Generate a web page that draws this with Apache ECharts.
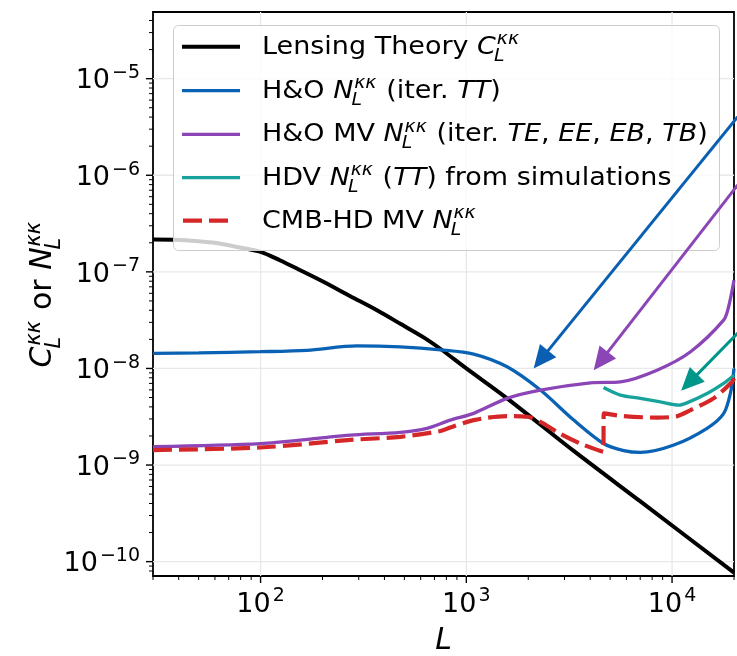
<!DOCTYPE html>
<html><head><meta charset="utf-8">
<script src="https://cdn.jsdelivr.net/npm/echarts@6/dist/echarts.min.js"></script>
<style>html,body{margin:0;padding:0;background:#fff}#c{width:737px;height:656px}</style>
</head><body><div id="c"></div>
<script>
// ---------- data ----------
const X_MIN = 30, X_MAX = 20000, Y_MIN = 7.1e-11, Y_MAX = 4.9e-5;

const theoryL = [30, 38, 50, 61, 77, 100, 124, 156, 202, 273, 368, 478, 620, 750, 1000, 1578, 3326, 7015, 20000];
const theoryC = [2.16e-7, 2.15e-7, 2.08e-7, 1.99e-7, 1.81e-7, 1.61e-7, 1.32e-7, 1.04e-7, 7.9e-8, 5.6e-8, 4.0e-8, 2.9e-8, 2.1e-8, 1.59e-8, 1.0e-8, 4.9e-9, 1.4e-9, 4.2e-10, 7.7e-11];

const hoTTL = [30, 50, 100, 168, 294, 478, 750, 1086, 1578, 2291, 3326, 4645, 5820, 7015, 10200, 14800, 17800, 19200, 20000];
const hoTTN = [1.43e-8, 1.45e-8, 1.49e-8, 1.54e-8, 1.71e-8, 1.67e-8, 1.56e-8, 1.41e-8, 1.04e-8, 5.97e-9, 2.92e-9, 1.67e-9, 1.41e-9, 1.35e-9, 1.61e-9, 2.4e-9, 3.4e-9, 5.5e-9, 1.0e-8];

const hoMVL = [30, 100, 188, 273, 478, 644, 836, 1086, 1578, 2291, 4010, 5610, 8450, 12300, 17800, 18800, 20000];
const hoMVN = [1.55e-9, 1.67e-9, 1.89e-9, 2.04e-9, 2.18e-9, 2.4e-9, 2.92e-9, 3.43e-9, 4.9e-9, 5.97e-9, 7.1e-9, 7.27e-9, 9.6e-9, 1.49e-8, 3.16e-8, 4.3e-8, 8.2e-8];

const hdvL = [4645, 5610, 7015, 8770, 10800, 11800, 14800, 17800, 20000];
const hdvN = [6.35e-9, 5.3e-9, 4.9e-9, 4.5e-9, 4.17e-9, 4.4e-9, 5.5e-9, 7.0e-9, 8.5e-9];

const cmbhdL = [30, 100, 273, 478, 749, 836, 1086, 1578, 1974, 2291, 2761, 3583, 4630, 4660, 5820, 8450, 10600, 12300, 15900, 19600, 20000];
const cmbhdN = [1.43e-9, 1.52e-9, 1.82e-9, 1.96e-9, 2.25e-9, 2.45e-9, 2.92e-9, 3.21e-9, 3.16e-9, 2.8e-9, 2.2e-9, 1.67e-9, 1.37e-9, 3.43e-9, 3.21e-9, 3.1e-9, 3.21e-9, 3.7e-9, 4.9e-9, 7.3e-9, 7.9e-9];

// annotation arrows (data coordinates): tip and tail
const arrowTipL = [2124, 4160, 11070];
const arrowTipV = [1.0e-8, 9.6e-9, 5.86e-9];
const arrowTailL = [22000, 22000, 22000];
const arrowTailV = [4.65e-6, 9.2e-7, 2.6e-8];

// ticks
const xMajorTicks = [100, 1000, 10000];
const xTickExps = ['2', '3', '4'];
const xMinorTicks = [30, 40, 50, 60, 70, 80, 90, 200, 300, 400, 500, 600, 700, 800, 900, 2000, 3000, 4000, 5000, 6000, 7000, 8000, 9000, 20000];
const yMajorTicks = [1e-10, 1e-9, 1e-8, 1e-7, 1e-6, 1e-5];
const yTickExps = ['\u221210', '\u22129', '\u22128', '\u22127', '\u22126', '\u22125'];
const yMinorTicks = [8e-11, 9e-11,
  2e-10, 3e-10, 4e-10, 5e-10, 6e-10, 7e-10, 8e-10, 9e-10,
  2e-9, 3e-9, 4e-9, 5e-9, 6e-9, 7e-9, 8e-9, 9e-9,
  2e-8, 3e-8, 4e-8, 5e-8, 6e-8, 7e-8, 8e-8, 9e-8,
  2e-7, 3e-7, 4e-7, 5e-7, 6e-7, 7e-7, 8e-7, 9e-7,
  2e-6, 3e-6, 4e-6, 5e-6, 6e-6, 7e-6, 8e-6, 9e-6,
  2e-5, 3e-5, 4e-5];

// legend labels (plain text, {i: italic}, {m: letter, sup, sub})
const legendLabels = [
  ['Lensing Theory ', {m: 'C', sup: '\u03ba\u03ba', sub: 'L'}],
  ['H&O ', {m: 'N', sup: '\u03ba\u03ba', sub: 'L'}, ' (iter. ', {i: 'TT'}, ')'],
  ['H&O MV ', {m: 'N', sup: '\u03ba\u03ba', sub: 'L'}, ' (iter. ', {i: 'TE'}, ', ', {i: 'EE'}, ', ', {i: 'EB'}, ', ', {i: 'TB'}, ')'],
  ['HDV ', {m: 'N', sup: '\u03ba\u03ba', sub: 'L'}, ' (', {i: 'TT'}, ') from simulations'],
  ['CMB-HD MV ', {m: 'N', sup: '\u03ba\u03ba', sub: 'L'}]
];
const yTitle = [{m: 'C', sup: '\u03ba\u03ba', sub: 'L'}, ' or ', {m: 'N', sup: '\u03ba\u03ba', sub: 'L'}];

// ---------- style ----------
const COLORS = ['#000000', '#0a62b4', '#8b45b6', '#17a39c', '#d62728'];
const ARROW_COLORS = ['#0a5fb2', '#8b45b6', '#00968a'];
const WIDTHS = [4, 3.3, 3.3, 3.3, 4.2];
const DASH = [19, 7];
const FONT = '"DejaVu Sans"';

// ---------- helpers ----------
const _ctx = document.createElement('canvas').getContext('2d');
function tw(t, fs, it) { _ctx.font = (it ? 'italic ' : '') + fs + 'px ' + FONT; return _ctx.measureText(t).width; }
const MID = 0.346;
function txt(t, x, base, fs, it, z) {
  return {type: 'text', x: x, y: base - MID * fs, z: z || 10,
    style: {text: t, font: (it ? 'italic ' : '') + fs + 'px ' + FONT, fill: '#000',
      textAlign: 'left', align: 'left', textVerticalAlign: 'middle', verticalAlign: 'middle'}};
}
function layout(pieces, fs, z) {
  const els = []; let cx = 0; const sfs = fs * 0.7;
  for (const p of pieces) {
    if (typeof p === 'string') { els.push(txt(p, cx, 0, fs, false, z)); cx += tw(p, fs, false); }
    else if (p.i) { els.push(txt(p.i, cx, 0, fs, true, z)); cx += tw(p.i, fs, true); }
    else {
      els.push(txt(p.m, cx, 0, fs, true, z)); cx += tw(p.m, fs, true);
      const supX = cx + fs * 0.03, subX = cx - fs * 0.07;
      els.push(txt(p.sup, supX, -fs * 0.42, sfs, true, z));
      els.push(txt(p.sub, subX, fs * 0.27, sfs, true, z));
      cx = Math.max(supX + tw(p.sup, sfs, true), subX + tw(p.sub, sfs, true)) + fs * 0.04;
    }
  }
  return {els: els, width: cx};
}
const zip = (a, b) => a.map((v, i) => [v, b[i]]);

// ---------- graphic (legend + titles) ----------
const LFS = 27;
const graphic = [];
graphic.push({type: 'rect', z: 10, shape: {x: 173.5, y: 25.5, width: 546, height: 225, r: 5},
  style: {fill: 'rgba(255,255,255,0.8)', stroke: '#cccccc', lineWidth: 1}});
const rowY = [46.7, 90.7, 134.3, 177.7, 220.7];
legendLabels.forEach((lab, i) => {
  const isDash = i === 4;
  graphic.push({type: 'line', z: 11, shape: {x1: isDash ? 183 : 182, y1: rowY[i], x2: isDash ? 231 : 240, y2: rowY[i]},
    style: {stroke: COLORS[i], lineWidth: WIDTHS[i], lineDash: isDash ? DASH : null}});
  const L = layout(lab, LFS, 11);
  graphic.push({type: 'group', x: 262, y: rowY[i] + 9, scaleY: 0.9, z: 11, children: L.els});
});
// y axis title (rotated)
const YT = layout(yTitle, 30, 11);
graphic.push({type: 'group', x: 54, y: 294, rotation: Math.PI / 2, children:
  YT.els.map(e => Object.assign(e, {x: e.x - YT.width / 2}))});
// x axis title
const XT = layout([{i: 'L'}], 30, 11);
graphic.push({type: 'group', x: 443.5 - XT.width / 2, y: 652, children: XT.els});

// ---------- tick data ----------
const tickData = [];
xMajorTicks.forEach(v => tickData.push([v, Y_MIN, 0, 7]));
xMinorTicks.forEach(v => tickData.push([v, Y_MIN, 0, 4]));
yMajorTicks.forEach(v => tickData.push([X_MIN, v, 1, 7]));
yMinorTicks.forEach(v => tickData.push([X_MIN, v, 1, 4]));

const labelData = [];
const labelExps = [];
xMajorTicks.forEach((v, i) => { labelData.push([v, Y_MIN, 0]); labelExps.push(xTickExps[i]); });
yMajorTicks.forEach((v, i) => { labelData.push([X_MIN, v, 1]); labelExps.push(yTickExps[i]); });

const gridData = [];
xMajorTicks.forEach(v => gridData.push([v, Y_MIN, 0]));
yMajorTicks.forEach(v => gridData.push([X_MIN, v, 1]));

const arrowData = arrowTipL.map((v, i) => [v, arrowTipV[i], arrowTailL[i], arrowTailV[i]]);

const TFS = 27, SFS = 19;

const lineSeries = (name, L, V, idx, dashed) => ({
  name: name, type: 'line', data: zip(L, V), showSymbol: false, symbol: 'none', smooth: 0.3,
  z: 2, lineStyle: {color: COLORS[idx], width: WIDTHS[idx], type: dashed ? DASH : 'solid', cap: 'butt'},
  emphasis: {disabled: true}
});

const option = {
  animation: false,
  grid: {left: 153, right: 3, top: 12, bottom: 80, show: true, borderColor: '#000', borderWidth: 1.8, backgroundColor: 'transparent', containLabel: false},
  xAxis: {type: 'log', logBase: 10, min: X_MIN, max: X_MAX, axisLine: {show: false}, axisTick: {show: false},
    axisLabel: {show: false}, splitLine: {show: false}, minorTick: {show: false}},
  yAxis: {type: 'log', logBase: 10, min: Y_MIN, max: Y_MAX, axisLine: {show: false}, axisTick: {show: false},
    axisLabel: {show: false}, splitLine: {show: false}, minorTick: {show: false}},
  graphic: graphic,
  series: [
    {type: 'custom', z: 1, silent: true, data: gridData, renderItem: (p, api) => {
      let a, b;
      if (api.value(2) === 0) { a = api.coord([api.value(0), Y_MIN]); b = api.coord([api.value(0), Y_MAX]); }
      else { a = api.coord([X_MIN, api.value(1)]); b = api.coord([X_MAX, api.value(1)]); }
      return {type: 'line', shape: {x1: a[0], y1: a[1], x2: b[0], y2: b[1]}, style: {stroke: '#e8e8e8', lineWidth: 1.3}};
    }},
    lineSeries('Lensing Theory', theoryL, theoryC, 0, false),
    lineSeries('H&O TT', hoTTL, hoTTN, 1, false),
    lineSeries('H&O MV', hoMVL, hoMVN, 2, false),
    lineSeries('HDV TT', hdvL, hdvN, 3, false),
    lineSeries('CMB-HD MV', cmbhdL, cmbhdN, 4, true),
    {type: 'custom', z: 5, silent: true, clip: false, data: tickData, renderItem: (p, api) => {
      const pt = api.coord([api.value(0), api.value(1)]);
      const len = api.value(3);
      const w = len > 5 ? 1.4 : 1.0;
      if (api.value(2) === 0) return {type: 'line', shape: {x1: pt[0], y1: pt[1], x2: pt[0], y2: pt[1] + len}, style: {stroke: '#000', lineWidth: w}};
      return {type: 'line', shape: {x1: pt[0], y1: pt[1], x2: pt[0] - len, y2: pt[1]}, style: {stroke: '#000', lineWidth: w}};
    }},
    {type: 'custom', z: 5, silent: true, clip: false, data: labelData, renderItem: (p, api) => {
      const pt = api.coord([api.value(0), api.value(1)]);
      const exp = labelExps[p.dataIndex];
      const wb = tw('10', TFS, false), we = tw(exp, SFS, false), gap = 2;
      let x0, base;
      if (api.value(2) === 0) { x0 = pt[0] - (wb + gap + we) / 2; base = pt[1] + 38; }
      else { x0 = 140 - (wb + gap + we); base = pt[1] + 12; }
      return {type: 'group', children: [txt('10', x0, base, TFS, false, 5), txt(exp, x0 + wb + gap, base - 11, SFS, false, 5)]};
    }},
    {type: 'custom', z: 20, silent: true, clip: false, data: arrowData, renderItem: (p, api) => {
      const tip = api.coord([api.value(0), api.value(1)]);
      const tail = api.coord([api.value(2), api.value(3)]);
      const c = ARROW_COLORS[p.dataIndex];
      const dx = tip[0] - tail[0], dy = tip[1] - tail[1], len = Math.hypot(dx, dy);
      const ux = dx / len, uy = dy / len, hl = 23, hw = 10.5;
      const bx = tip[0] - ux * hl, by = tip[1] - uy * hl;
      return {type: 'group', children: [
        {type: 'line', shape: {x1: tail[0], y1: tail[1], x2: bx + ux * 3, y2: by + uy * 3}, style: {stroke: c, lineWidth: 3}},
        {type: 'polygon', shape: {points: [[tip[0], tip[1]], [bx - uy * hw, by + ux * hw], [bx + uy * hw, by - ux * hw]]}, style: {fill: c}}
      ]};
    }}
  ]
};
const chart = echarts.init(document.getElementById('c'), null, {renderer: 'canvas', width: 737, height: 656});
chart.setOption(option);
</script></body></html>
